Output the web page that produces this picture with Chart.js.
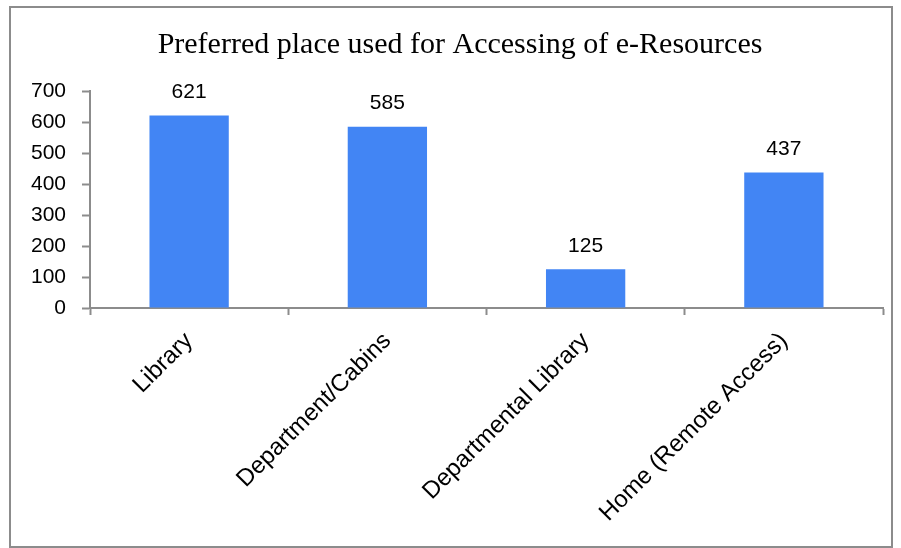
<!DOCTYPE html>
<html>
<head>
<meta charset="utf-8">
<title>Preferred place used for Accessing of e-Resources</title>
<script src="https://cdn.jsdelivr.net/npm/chart.js@4/dist/chart.umd.min.js"></script>
<style>
  html, body { margin: 0; padding: 0; background: #fff; }
  #wrap { width: 901px; height: 548px; position: relative; }
</style>
</head>
<body>
<div id="wrap"><canvas id="placeChart"></canvas></div>
<script>
const places = ["Library", "Department/Cabins", "Departmental Library", "Home (Remote Access)"];
const respondents = [621, 585, 125, 437];
const yTicks = [0, 100, 200, 300, 400, 500, 600, 700];
const chartTitle = "Preferred place used for Accessing of e-Resources";

const axisGray = '#8c8c8c';
const sansFont = '"Liberation Sans", Arial, sans-serif';

// frame, title and value labels
const decorations = {
  id: 'decorations',
  beforeDraw(chart) {
    const ctx = chart.ctx;
    ctx.save();
    ctx.fillStyle = '#fff';
    ctx.fillRect(0, 0, chart.width, chart.height);
    ctx.strokeStyle = axisGray;
    ctx.lineWidth = 2;
    ctx.strokeRect(10, 7, 882, 540);
    ctx.fillStyle = '#000';
    ctx.font = '30px "Liberation Serif", "Times New Roman", serif';
    ctx.textAlign = 'center';
    ctx.textBaseline = 'middle';
    ctx.fillText(chartTitle, 460, 45);
    ctx.restore();
  },
  afterDatasetsDraw(chart) {
    const ctx = chart.ctx;
    const meta = chart.getDatasetMeta(0);
    ctx.save();
    ctx.fillStyle = '#000';
    ctx.font = '21px ' + sansFont;
    ctx.textAlign = 'center';
    ctx.textBaseline = 'middle';
    meta.data.forEach((bar, i) => {
      ctx.fillText(String(respondents[i]), bar.x, bar.y - 23);
    });
    ctx.restore();
  }
};

new Chart(document.getElementById('placeChart'), {
  type: 'bar',
  data: {
    labels: places,
    datasets: [{
      data: respondents,
      backgroundColor: '#4285f4',
      borderWidth: 0,
      barPercentage: 0.4,
      categoryPercentage: 1
    }]
  },
  options: {
    responsive: true,
    maintainAspectRatio: false,
    animation: false,
    layout: { padding: { left: 10, top: 91, right: 18, bottom: 0 } },
    plugins: {
      legend: { display: false },
      tooltip: { enabled: false },
      title: { display: false }
    },
    scales: {
      x: {
        afterFit(scale) { scale.height = 240; },
        grid: {
          offset: true,
          drawOnChartArea: false,
          drawTicks: true,
          tickLength: 7,
          tickColor: axisGray,
          tickWidth: 2
        },
        border: { display: true, color: axisGray, width: 2 },
        ticks: {
          minRotation: 45,
          maxRotation: 45,
          padding: 12,
          color: '#000',
          font: { family: sansFont, size: 24 }
        }
      },
      y: {
        min: 0,
        max: 700,
        afterFit(scale) { scale.width = 80; },
        afterBuildTicks(scale) {
          scale.ticks = yTicks.map(v => ({ value: v }));
        },
        grid: {
          drawOnChartArea: false,
          drawTicks: true,
          tickLength: 8,
          tickColor: axisGray,
          tickWidth: 2
        },
        border: { display: true, color: axisGray, width: 2 },
        ticks: {
          padding: 16,
          color: '#000',
          font: { family: sansFont, size: 21 }
        }
      }
    }
  },
  plugins: [decorations]
});
</script>
</body>
</html>
